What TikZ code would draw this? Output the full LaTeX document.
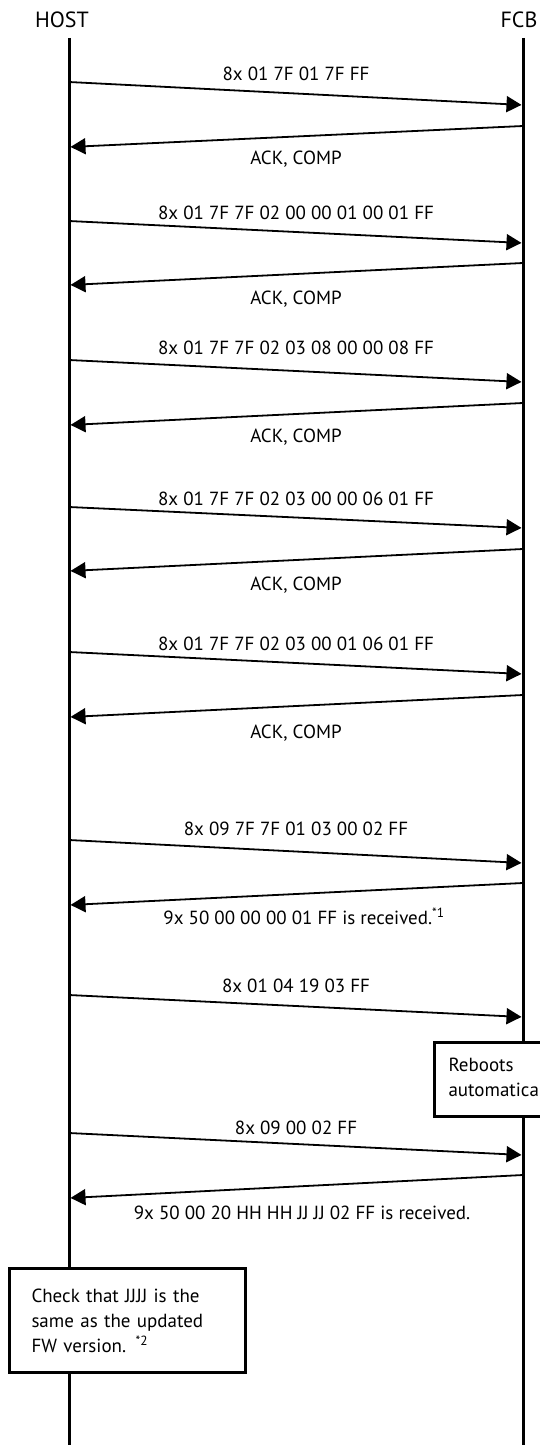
\documentclass[tikz,border=0pt]{standalone}
\usepackage{fontspec}
\setmainfont{PT Sans}
\usepackage{tikz}
\usetikzlibrary{arrows.meta,positioning}

\begin{document}
\begin{tikzpicture}[x=1pt,y=-1pt,every node/.style={font=\fontsize{19}{25}\selectfont},
  life/.style={line width=3pt},
  msg/.style={line width=1.8pt,-{Triangle[length=15pt,width=16pt]},shorten >=1.5pt},
  lbl/.style={anchor=base,inner sep=0pt},
  hdr/.style={anchor=base,inner sep=0pt,font=\fontsize{22}{26}\selectfont},
  note/.style={draw,line width=3pt,fill=white,anchor=north west,inner sep=0pt,align=left}]
\useasboundingbox (0,0) rectangle (540,1445);
\node[hdr] (host) at (62,28) {HOST};
\node[hdr] (fcb) at (519,28) {FCB};
\coordinate (ht) at (69,38); \coordinate (hb) at (69,1445);
\coordinate (ft) at (523,38); \coordinate (fb) at (523,1445);
\draw[life] (ht) -- (hb);
\draw[life] (ft) -- (fb);
\coordinate (h1) at (69,82);   \coordinate (f1) at (523,105);
\coordinate (f2) at (523,126); \coordinate (h2) at (69,147);
\coordinate (h3) at (69,221);  \coordinate (f3) at (523,243);
\coordinate (f4) at (523,263); \coordinate (h4) at (69,285);
\coordinate (h5) at (69,360);  \coordinate (f5) at (523,382);
\coordinate (f6) at (523,403); \coordinate (h6) at (69,425);
\coordinate (h7) at (69,507);  \coordinate (f7) at (523,528);
\coordinate (f8) at (523,549); \coordinate (h8) at (69,571);
\coordinate (h9) at (69,652);  \coordinate (f9) at (523,674);
\coordinate (f10) at (523,695); \coordinate (h10) at (69,717);
\coordinate (h11) at (69,840);  \coordinate (f11) at (523,863);
\coordinate (f12) at (523,883); \coordinate (h12) at (69,905);
\coordinate (h13) at (69,995);  \coordinate (f13) at (523,1017);
\coordinate (h14) at (69,1133); \coordinate (f14) at (523,1155);
\coordinate (f15) at (523,1175); \coordinate (h15) at (69,1198);
\draw[msg] (h1) -- (f1);
\draw[msg] (f2) -- (h2);
\draw[msg] (h3) -- (f3);
\draw[msg] (f4) -- (h4);
\draw[msg] (h5) -- (f5);
\draw[msg] (f6) -- (h6);
\draw[msg] (h7) -- (f7);
\draw[msg] (f8) -- (h8);
\draw[msg] (h9) -- (f9);
\draw[msg] (f10) -- (h10);
\draw[msg] (h11) -- (f11);
\draw[msg] (f12) -- (h12);
\draw[msg] (h13) -- (f13);
\draw[msg] (h14) -- (f14);
\draw[msg] (f15) -- (h15);
\node[lbl] (m1) at (296,81) {8x 01 7F 01 7F FF};
\node[lbl] (m2) at (296,164) {ACK, COMP};
\node[lbl] (m3) at (296,219) {8x 01 7F 7F 02 00 00 01 00 01 FF};
\node[lbl] (m4) at (296,304) {ACK, COMP};
\node[lbl] (m5) at (296,354) {8x 01 7F 7F 02 03 08 00 00 08 FF};
\node[lbl] (m6) at (296,442) {ACK, COMP};
\node[lbl] (m7) at (296,505) {8x 01 7F 7F 02 03 00 00 06 01 FF};
\node[lbl] (m8) at (296,590) {ACK, COMP};
\node[lbl] (m9) at (296,650) {8x 01 7F 7F 02 03 00 01 06 01 FF};
\node[lbl] (m10) at (296,738) {ACK, COMP};
\node[lbl] (m11) at (296,835) {8x 09 7F 7F 01 03 00 02 FF};
\node[lbl] (m12) at (304,924) {9x 50 00 00 00 01 FF is received.\textsuperscript{*1}};
\node[lbl] (m13) at (296,992) {8x 01 04 19 03 FF};
\node[lbl] (m14) at (296,1134) {8x 09 00 02 FF};
\node[lbl] (m15) at (302,1219) {9x 50 00 20 HH HH JJ JJ 02 FF is received.};
\node[note,minimum width=160pt,minimum height=74pt,text width=132pt] (reboot) at (433,1041)
  {Reboots\\automatically};
\node[note,minimum width=236pt,minimum height=104pt,text width=192pt] (check) at (8,1267)
  {Check that JJJJ is the\\same as the updated\\FW version. \textsuperscript{*2}};
\end{tikzpicture}
\end{document}
